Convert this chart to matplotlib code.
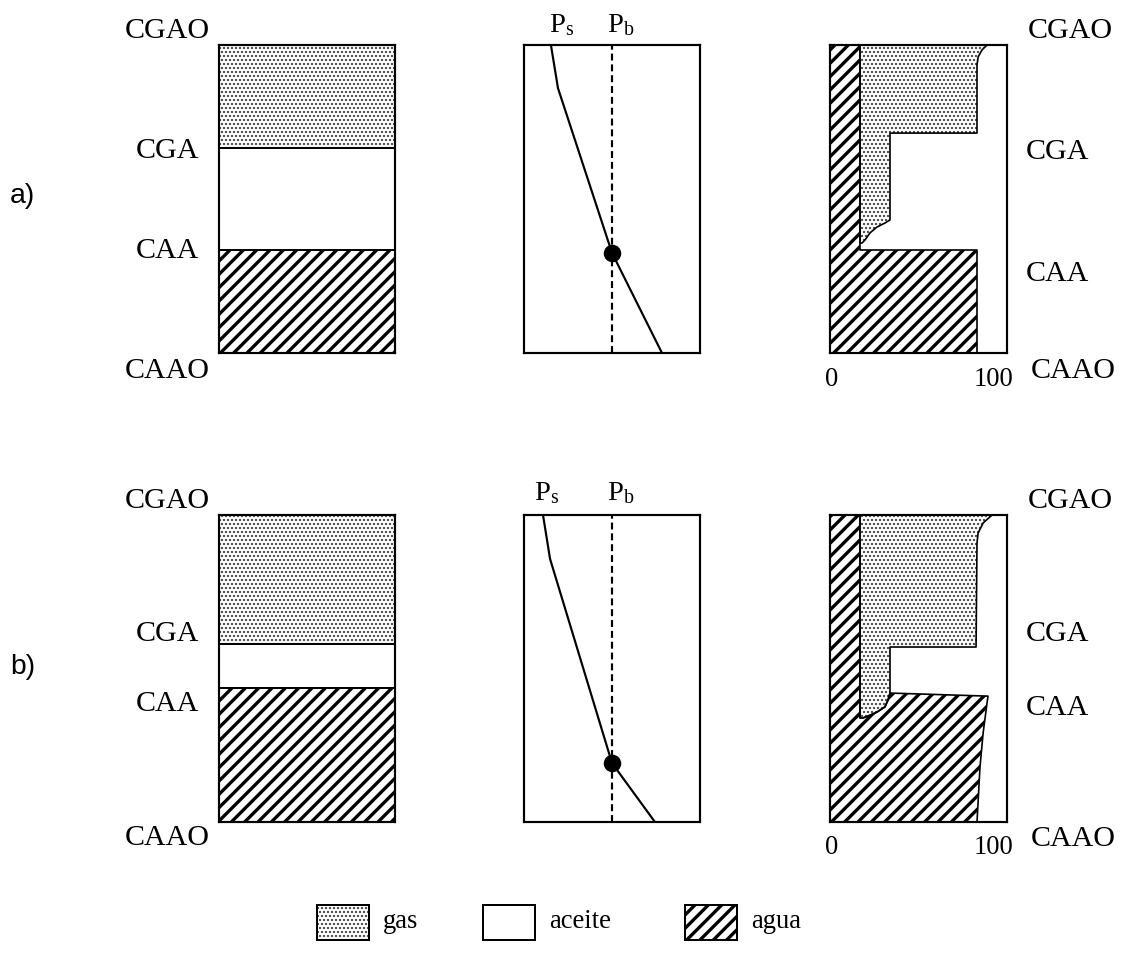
import matplotlib
matplotlib.use("Agg")
import matplotlib.pyplot as plt
from matplotlib.patches import Rectangle

W, H, DPI = 1123, 953, 120

plt.rcParams["mathtext.fontset"] = "custom"
plt.rcParams["mathtext.rm"] = "Liberation Serif"
plt.rcParams["mathtext.it"] = "Liberation Serif:italic"

SERIF = "Liberation Serif"
SANS = "Liberation Sans"

# contact depths as a fraction of the column (0 = CGAO, 1 = CAAO)
contact_names = ["CGA", "CAA"]
contacts_a = [0.334, 0.666]
contacts_b = [0.42, 0.564]

# pressure profiles: Ps (arbitrary pressure units) against depth fraction
ps_press_a = [15.3, 19.3, 50.0, 78.4]
ps_depth_a = [0.0, 0.14, 0.675, 1.0]
ps_press_b = [10.8, 14.8, 50.0, 74.4]
ps_depth_b = [0.0, 0.143, 0.808, 1.0]
pb_press = 50.0
bubble_depth_a = 0.675
bubble_depth_b = 0.808

# saturation profiles (%): outlines of the gas and water areas
gas_sat_a = [19.1, 100.0, 96.8, 94.3, 93.6, 93.6, 38.2, 38.2, 35.0, 29.9, 25.5, 22.3, 20.4, 19.1]
gas_depth_a = [0.0, 0.0, 0.016, 0.039, 0.065, 0.286, 0.286, 0.568, 0.578, 0.591, 0.61, 0.633, 0.643, 0.643]
water_sat_a = [0.0, 19.1, 19.1, 93.6, 93.6, 0.0]
water_depth_a = [0.0, 0.0, 0.666, 0.666, 1.0, 1.0]

gas_sat_b = [19.1, 103.2, 97.5, 94.3, 93.6, 93.0, 38.2, 38.2, 36.9, 35.0, 29.9, 24.2, 21.0, 19.1]
gas_depth_b = [0.0, 0.0, 0.026, 0.059, 0.091, 0.43, 0.43, 0.58, 0.603, 0.625, 0.642, 0.655, 0.661, 0.661]
water_sat_b = [0.0, 19.1, 19.1, 21.0, 24.2, 29.9, 35.0, 36.9, 38.2, 100.6, 100.0, 97.5, 95.5, 93.6, 0.0]
water_depth_b = [0.0, 0.0, 0.661, 0.661, 0.655, 0.642, 0.625, 0.603, 0.58, 0.59, 0.612, 0.71, 0.821, 1.0, 1.0]

sat_max = 112.7
legend_labels = ["gas", "aceite", "agua"]

GAS = dict(facecolor="white", edgecolor="#3a3a3a", hatch=".....", linewidth=0)
OIL = dict(facecolor="white", edgecolor="black", hatch=None, linewidth=0)
WATER = dict(facecolor="white", edgecolor="black", hatch="///", linewidth=0)
HATCH_LW = {".....": 0.9, "///": 2.0, None: 1.0}


def styled(patch, style):
    lw = HATCH_LW[style["hatch"]]
    if hasattr(patch, "set_hatch_linewidth"):
        patch.set_hatch_linewidth(lw)
    return patch


def fig_axes(fig, x0, y0, x1, y1):
    # panel placed by its pixel box
    return fig.add_axes([x0 / W, 1 - y1 / H, (x1 - x0) / W, (y1 - y0) / H])


def fig_text(fig, x, y, s, **kw):
    fig.text(x / W, 1 - y / H, s, **kw)


def frame(ax, xmax):
    ax.set_xlim(0, xmax)
    ax.set_ylim(1, 0)
    ax.set_xticks([])
    ax.set_yticks([])
    for sp in ax.spines.values():
        sp.set_linewidth(1.3)
        sp.set_zorder(5)


def fill_area(ax, xs, ys, style, outline=True):
    with plt.rc_context({"hatch.linewidth": HATCH_LW[style["hatch"]]}):
        polys = ax.fill(xs, ys, **style)
        for p in polys:
            styled(p, style)
    if outline:
        ax.plot(list(xs) + [xs[0]], list(ys) + [ys[0]], color="black", lw=1.0, zorder=3)


def column_panel(ax, contacts):
    frame(ax, 1)
    cga, caa = contacts
    with plt.rc_context({"hatch.linewidth": HATCH_LW[GAS["hatch"]]}):
        styled(ax.axhspan(0, cga, **GAS), GAS)
    with plt.rc_context({"hatch.linewidth": HATCH_LW[WATER["hatch"]]}):
        styled(ax.axhspan(caa, 1, **WATER), WATER)
    for c in contacts:
        ax.axhline(c, color="black", lw=1.2, zorder=4)


def pressure_panel(ax, press, depth, bubble_depth):
    frame(ax, 100)
    ax.axvline(pb_press, color="black", lw=1.3, dashes=(3.2, 1.8))
    ax.plot(press, depth, color="black", lw=1.3)
    ax.plot([pb_press], [bubble_depth], "o", color="black", ms=9.5, zorder=6)


def saturation_panel(ax, gas_x, gas_y, water_x, water_y):
    frame(ax, sat_max)
    fill_area(ax, gas_x, gas_y, GAS)
    fill_area(ax, water_x, water_y, WATER)


fig = plt.figure(figsize=(W / DPI, H / DPI), dpi=DPI)
fig.patch.set_facecolor("white")

rows = [
    dict(top=45, bottom=353, contacts=contacts_a, press=ps_press_a, depth=ps_depth_a,
         bubble=bubble_depth_a, gas=(gas_sat_a, gas_depth_a), water=(water_sat_a, water_depth_a),
         tag="a)", tag_y=196, ps_x=549, pb_x=607, p_base=32,
         left_y=[31, 151, 251, 371], right_y=[31, 152, 274, 371], num_y=379),
    dict(top=515, bottom=822, contacts=contacts_b, press=ps_press_b, depth=ps_depth_b,
         bubble=bubble_depth_b, gas=(gas_sat_b, gas_depth_b), water=(water_sat_b, water_depth_b),
         tag="b)", tag_y=667, ps_x=534, pb_x=607, p_base=500,
         left_y=[501, 634, 704, 838], right_y=[501, 634, 708, 839], num_y=847),
]

for r in rows:
    ax1 = fig_axes(fig, 219, r["top"], 395, r["bottom"])
    column_panel(ax1, r["contacts"])
    ax2 = fig_axes(fig, 524, r["top"], 700, r["bottom"])
    pressure_panel(ax2, r["press"], r["depth"], r["bubble"])
    ax3 = fig_axes(fig, 830, r["top"], 1007, r["bottom"])
    saturation_panel(ax3, *r["gas"], *r["water"])

    names = ["CGAO"] + contact_names + ["CAAO"]
    for name, y in zip(names, r["left_y"]):
        fig_text(fig, 167, y, name, family=SERIF, fontsize=18, ha="center", va="center")
    for name, y, x in zip(names, r["right_y"], [1070, 1057, 1057, 1073]):
        fig_text(fig, x, y, name, family=SERIF, fontsize=18, ha="center", va="center")
    fig_text(fig, 832, r["num_y"], "0", family=SERIF, fontsize=16, ha="center", va="center")
    fig_text(fig, 994, r["num_y"], "100", family=SERIF, fontsize=16, ha="center", va="center")
    fig_text(fig, r["ps_x"], r["p_base"], r"$\mathrm{P_s}$", fontsize=17, ha="left", va="baseline")
    fig_text(fig, r["pb_x"], r["p_base"], r"$\mathrm{P_b}$", fontsize=17, ha="left", va="baseline")
    fig_text(fig, 10, r["tag_y"], r["tag"], family=SANS, fontsize=17, ha="left", va="center")

# legend: swatch boxes with their labels
legend_styles = [GAS, OIL, WATER]
legend_x = [317, 483, 685]
for label, style, x in zip(legend_labels, legend_styles, legend_x):
    with plt.rc_context({"hatch.linewidth": HATCH_LW[style["hatch"]]}):
        box = Rectangle((x / W, 1 - 940 / H), 52 / W, 35 / H, transform=fig.transFigure,
                        facecolor="white", edgecolor=style["edgecolor"], hatch=style["hatch"], linewidth=0)
        styled(box, style)
    fig.add_artist(box)
    fig.add_artist(Rectangle((x / W, 1 - 940 / H), 52 / W, 35 / H, transform=fig.transFigure,
                             facecolor="none", edgecolor="black", linewidth=1.2))
    fig_text(fig, x + 66, 922, label, family=SERIF, fontsize=16, ha="left", va="center")

fig.savefig("out.png", dpi=DPI, facecolor="white")
